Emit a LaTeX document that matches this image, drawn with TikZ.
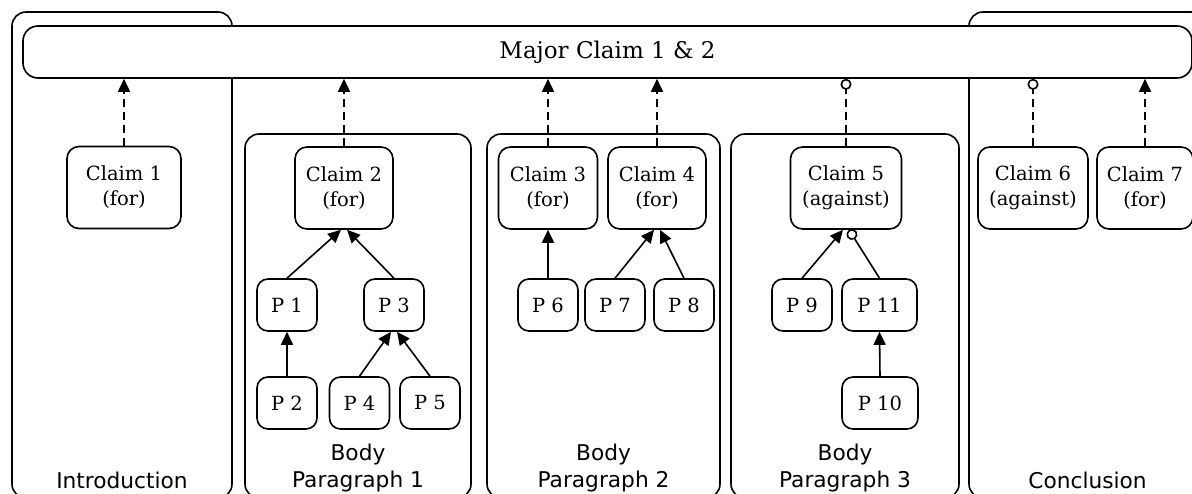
\documentclass[tikz,border=0pt]{standalone}
\usepackage{fontspec}
\setmainfont{DejaVu Serif}
\setsansfont{DejaVu Sans}
\usetikzlibrary{arrows.meta}
\tikzset{
  lw/.style={line width=1.6pt},
  secbox/.style={draw, lw, rounded corners=14pt, inner sep=0pt},
  claimbox/.style={draw, lw, rounded corners=12pt, fill=white, inner sep=0pt, align=center,
     minimum height=82pt, font=\fontsize{19.5}{25}\selectfont},
  pbox/.style={draw, lw, rounded corners=11pt, fill=white, inner sep=0pt, align=center,
     minimum height=52pt, minimum width=60pt, font=\fontsize{19.5}{25}\selectfont},
  seclabel/.style={align=center, inner sep=0pt, font=\sffamily\fontsize{21.7}{27}\selectfont},
  supp/.style={lw, -{Triangle[length=13pt,width=12pt]}},
  att/.style={lw, -{Circle[open,length=11pt,width=11pt]}},
  dsupp/.style={supp, dash pattern=on 8pt off 5pt},
  datt/.style={att, dash pattern=on 8pt off 5pt},
}
\begin{document}
\begin{tikzpicture}[x=1pt,y=-1pt]
\useasboundingbox (0,0) rectangle (1192,493);
% section boxes
\node[secbox, minimum width=220pt, minimum height=486pt] (intro) at (122,255) {};
\node[secbox, minimum width=236pt, minimum height=486pt] (concl) at (1087,255) {};
\node[secbox, minimum width=226pt, minimum height=364pt] (bp1) at (358,316) {};
\node[secbox, minimum width=233pt, minimum height=364pt] (bp2) at (603.5,316) {};
\node[secbox, minimum width=228pt, minimum height=364pt] (bp3) at (845,316) {};
% section labels
\node[seclabel] (lintro) at (122,480) {Introduction};
\node[seclabel] (lbp1) at (358,468.5) {Body\\Paragraph 1};
\node[seclabel] (lbp2) at (603.5,468.5) {Body\\Paragraph 2};
\node[seclabel] (lbp3) at (845,468.5) {Body\\Paragraph 3};
\node[seclabel] (lconcl) at (1087.5,480) {Conclusion};
% major claim
\node[draw, lw, rounded corners=15pt, fill=white, minimum width=1169pt, minimum height=52pt,
      inner sep=0pt, font=\fontsize{23}{25}\selectfont] (major) at (607.5,52) {Major Claim 1 \& 2};
% claims
\node[claimbox, minimum width=114pt] (c1) at (124,187.5) {Claim 1\\(for)};
\node[claimbox, minimum width=98pt] (c2) at (344,188) {Claim 2\\(for)};
\node[claimbox, minimum width=99pt] (c3) at (548,188) {Claim 3\\(for)};
\node[claimbox, minimum width=98pt] (c4) at (657,188) {Claim 4\\(for)};
\node[claimbox, minimum width=111pt] (c5) at (846,188) {Claim 5\\(against)};
\node[claimbox, minimum width=110pt] (c6) at (1033,188) {Claim 6\\(against)};
\node[claimbox, minimum width=96pt] (c7) at (1145,188) {Claim 7\\(for)};
% premises
\node[pbox] (p1) at (287,305) {P 1};
\node[pbox] (p3) at (394,305) {P 3};
\node[pbox] (p2) at (287,403) {P 2};
\node[pbox] (p4) at (359.5,403) {P 4};
\node[pbox] (p5) at (430,403) {P 5};
\node[pbox] (p6) at (548,305) {P 6};
\node[pbox] (p7) at (615,305) {P 7};
\node[pbox] (p8) at (684,305) {P 8};
\node[pbox] (p9) at (802,305) {P 9};
\node[pbox, minimum width=75pt] (p11) at (879.5,305) {P 11};
\node[pbox, minimum width=76pt] (p10) at (880,403) {P 10};
% claims to major claim
\draw[dsupp] (c1.north) -- (c1.north |- major.south);
\draw[dsupp] (c2.north) -- (c2.north |- major.south);
\draw[dsupp] (c3.north) -- (c3.north |- major.south);
\draw[dsupp] (c4.north) -- (c4.north |- major.south);
\draw[datt] (c5.north) -- (c5.north |- major.south);
\draw[datt] (c6.north) -- (c6.north |- major.south);
\draw[dsupp] (c7.north) -- (c7.north |- major.south);
% premises
\draw[supp] (p1.north) -- ([xshift=-3pt]c2.south);
\draw[supp] (p3.north) -- ([xshift=3pt]c2.south);
\draw[supp] (p2.north) -- (p1.south);
\draw[supp] (p4.north) -- ([xshift=-3pt]p3.south);
\draw[supp] (p5.north) -- ([xshift=3pt]p3.south);
\draw[supp] (p6.north) -- (c3.south);
\draw[supp] (p7.north) -- ([xshift=-3pt]c4.south);
\draw[supp] (p8.north) -- ([xshift=3pt]c4.south);
\draw[supp] (p9.north) -- ([xshift=-3pt]c5.south);
\draw[att] (p11.north) -- ([xshift=3pt]c5.south);
\draw[supp] (p10.north) -- (p11.south);
\end{tikzpicture}
\end{document}
